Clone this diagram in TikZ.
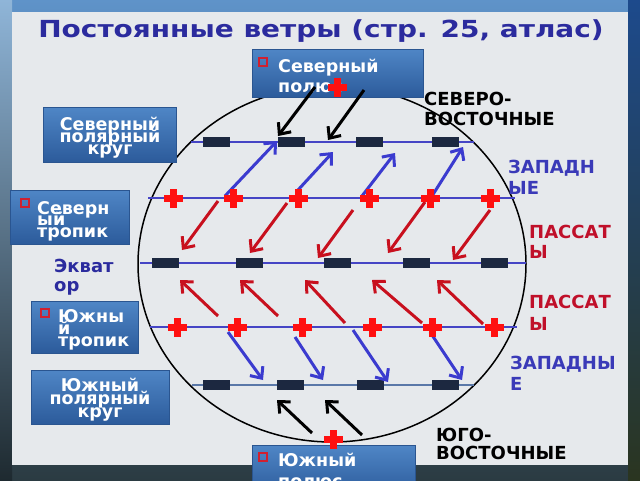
\documentclass[tikz,border=0pt]{standalone}
\usepackage{fontspec}
\setmainfont{DejaVu Sans}
\usetikzlibrary{arrows.meta,shapes.geometric}
\definecolor{titleblue}{HTML}{2B2B9E}
\definecolor{panelc}{HTML}{E6E9EC}
\definecolor{boxtop}{HTML}{4F86C6}
\definecolor{boxbot}{HTML}{2C5B9B}
\definecolor{boxedge}{HTML}{2A5590}
\definecolor{latblue}{HTML}{4545C5}
\definecolor{latsteel}{HTML}{5A78A8}
\definecolor{barnavy}{HTML}{1C2840}
\definecolor{windblue}{HTML}{3B3BCF}
\definecolor{windred}{HTML}{C8101E}
\definecolor{crossred}{HTML}{FF1010}
\definecolor{bulred}{HTML}{D02030}
\definecolor{lblblue}{HTML}{3A3AB8}
\definecolor{lblred}{HTML}{C0102A}
\definecolor{bgtop}{HTML}{5F93C9}
\definecolor{bgbot}{HTML}{2B3B42}
\definecolor{bgltop}{HTML}{8FB5D8}
\definecolor{bglbot}{HTML}{1E2A30}
\definecolor{bgrtop}{HTML}{1D4A8C}
\definecolor{bgrbot}{HTML}{2A3520}
\begin{document}
\begin{tikzpicture}[x=1pt,y=-1pt,
  box/.style={draw=boxedge, line width=0.6pt, top color=boxtop, bottom color=boxbot, inner sep=0pt},
  btxt/.style={text=white, font=\fontsize{17.5}{13}\selectfont\bfseries, inner sep=0pt, anchor=base west},
  ctxt/.style={text=white, font=\fontsize{17.5}{13}\selectfont\bfseries, inner sep=0pt, anchor=base},
  lbl/.style={font=\fontsize{18}{20}\selectfont\bfseries, inner sep=0pt, anchor=base west},
  latline/.style={draw=latblue, line width=2.6pt},
  bar/.style={fill=barnavy, minimum width=27pt, minimum height=10pt, inner sep=0pt},
  wind/.style={-{Straight Barb[length=9pt,width=16pt]}, line width=3pt},
  bullet/.style={draw=bulred, line width=1.5pt, minimum size=8pt, inner sep=0pt},
  rcross/.pic={\fill[crossred] (-9.5,-3.5) rectangle (9.5,3.5);
               \fill[crossred] (-3.5,-9.5) rectangle (3.5,9.5);}
]
\useasboundingbox (0,0) rectangle (640,480);
\clip (0,0) rectangle (640,480);
% background
\shade[top color=bgtop, bottom color=bgbot] (0,0) rectangle (640,480);
\shade[top color=bgltop, bottom color=bglbot] (0,0) rectangle (12,480);
\shade[top color=bgrtop, bottom color=bgrbot] (628,0) rectangle (640,480);
\fill[panelc] (12,12) rectangle (628,465);
% title
\node[font=\fontsize{23.5}{26}\selectfont\bfseries, text=titleblue, inner sep=0pt, anchor=base] (title) at (321,37)
  {\scalebox{1.19}[1]{Постоянные ветры (стр. 25, атлас)}};
% globe
\node[draw=black, line width=1.5pt, ellipse, minimum width=388pt, minimum height=356pt, inner sep=0pt] (globe) at (332,264) {};
% latitude lines
\coordinate (npl-w) at (191,142); \coordinate (npl-e) at (474,142);
\coordinate (ntr-w) at (148,198); \coordinate (ntr-e) at (515,198);
\coordinate (eq-w)  at (140,263); \coordinate (eq-e)  at (526,263);
\coordinate (str-w) at (150,327); \coordinate (str-e) at (517,327);
\coordinate (spl-w) at (192,385); \coordinate (spl-e) at (474,385);
\draw[latline] (npl-w) -- (npl-e);
\draw[latline] (ntr-w) -- (ntr-e);
\draw[latline] (eq-w) -- (eq-e);
\draw[latline] (str-w) -- (str-e);
\draw[latline, draw=latsteel] (spl-w) -- (spl-e);
% high-pressure bars
\foreach \i/\x in {1/216,2/291,3/369,4/445} {\node[bar] (nb\i) at (\x,142) {};}
\foreach \i/\x in {1/165,2/249,3/337,4/416,5/494} {\node[bar] (eb\i) at (\x,263) {};}
\foreach \i/\x in {1/216,2/290,3/370,4/445} {\node[bar] (sb\i) at (\x,385) {};}
% winds
\foreach \n/\sx/\sy/\ex/\ey in {1/225/196/277/141, 2/298/190/333/152, 3/362/196/395/153, 4/432/196/463/147}
  {\coordinate (wn\n s) at (\sx,\sy); \coordinate (wn\n e) at (\ex,\ey); \draw[wind, windblue] (wn\n s) -- (wn\n e);}
\foreach \n/\sx/\sy/\ex/\ey in {1/218/201/182/250, 2/287/203/250/253, 3/353/210/318/258, 4/425/202/388/253, 5/490/210/453/260}
  {\coordinate (tn\n s) at (\sx,\sy); \coordinate (tn\n e) at (\ex,\ey); \draw[wind, windred] (tn\n s) -- (tn\n e);}
\foreach \n/\sx/\sy/\ex/\ey in {1/218/316/180/280, 2/278/316/240/280, 3/345/323/305/280, 4/422/323/372/280, 5/483/324/437/280}
  {\coordinate (ts\n s) at (\sx,\sy); \coordinate (ts\n e) at (\ex,\ey); \draw[wind, windred] (ts\n s) -- (ts\n e);}
\foreach \n/\sx/\sy/\ex/\ey in {1/228/332/263/380, 2/295/337/323/380, 3/353/330/388/382, 4/430/332/462/380}
  {\coordinate (ws\n s) at (\sx,\sy); \coordinate (ws\n e) at (\ex,\ey); \draw[wind, windblue] (ws\n s) -- (ws\n e);}
% crosses on tropics
\foreach \i/\x in {1/173,2/233,3/298,4/369,5/430,6/490} {\pic (nc\i) at (\x,198) {rcross};}
\foreach \i/\x in {1/177,2/237,3/302,4/372,5/432,6/494} {\pic (sc\i) at (\x,327) {rcross};}
% boxes
\node[box, minimum width=133pt, minimum height=55pt] (npcbox) at (109.5,134.5) {};
\node[ctxt] (npc1) at (110,130) {Северный};
\node[ctxt] (npc2) at (110,142) {полярный};
\node[ctxt] (npc3) at (110,154) {круг};
\node[box, minimum width=119pt, minimum height=54pt] (ntrbox) at (69.5,217) {};
\node[bullet] (ntrb) at (25,203) {};
\node[btxt] (ntr1) at (37,214) {Северн};
\node[btxt] (ntr2) at (37,225.5) {ый};
\node[btxt] (ntr3) at (37,237) {тропик};
\node[box, minimum width=107pt, minimum height=52pt] (strbox) at (84.5,327) {};
\node[bullet] (strb) at (45,313) {};
\node[btxt] (str1) at (58,322) {Южны};
\node[btxt] (str2) at (58,334) {й};
\node[btxt] (str3) at (58,346.5) {тропик};
\node[box, minimum width=138pt, minimum height=54pt] (spcbox) at (100,397) {};
\node[ctxt] (spc1) at (100,391) {Южный};
\node[ctxt] (spc2) at (100,404) {полярный};
\node[ctxt] (spc3) at (100,417) {круг};
\node[box, minimum width=171pt, minimum height=48pt] (npbox) at (337.5,73) {};
\node[bullet] (npb) at (263,62) {};
\node[btxt] (np1) at (278,72) {Северный};
\node[btxt] (np2) at (278,92) {полюс};
\node[box, minimum width=163pt, minimum height=50pt] (spbox) at (333.5,470) {};
\node[bullet] (spb) at (263,457) {};
\node[btxt] (sp1) at (278,466) {Южный};
\node[btxt] (sp2) at (278,487) {полюс};
% polar winds and pole crosses
\foreach \n/\sx/\sy/\ex/\ey in {1/315/87/278/136, 2/364/90/328/140}
  {\coordinate (kn\n s) at (\sx,\sy); \coordinate (kn\n e) at (\ex,\ey); \draw[wind, black] (kn\n s) -- (kn\n e);}
\foreach \n/\sx/\sy/\ex/\ey in {1/312/433/277/400, 2/362/435/325/400}
  {\coordinate (ks\n s) at (\sx,\sy); \coordinate (ks\n e) at (\ex,\ey); \draw[wind, black] (ks\n s) -- (ks\n e);}
\pic (npc) at (337,87) {rcross};
\pic (spc) at (333,439) {rcross};
% labels
\node[lbl, text=titleblue] (eq1) at (54,272) {Экват};
\node[lbl, text=titleblue] (eq2) at (54,291) {ор};
\node[lbl, text=black] (ne1) at (424,105) {СЕВЕРО-};
\node[lbl, text=black] (ne2) at (424,125) {ВОСТОЧНЫЕ};
\node[lbl, text=lblblue] (wn1) at (508,173) {ЗАПАДН};
\node[lbl, text=lblblue] (wn2) at (508,194) {ЫЕ};
\node[lbl, text=lblred] (pn1) at (529,238) {ПАССАТ};
\node[lbl, text=lblred] (pn2) at (529,258) {Ы};
\node[lbl, text=lblred] (ps1) at (529,308) {ПАССАТ};
\node[lbl, text=lblred] (ps2) at (529,330) {Ы};
\node[lbl, text=lblblue] (ws1) at (510,369) {ЗАПАДНЫ};
\node[lbl, text=lblblue] (ws2) at (510,390) {Е};
\node[lbl, text=black] (se1) at (436,441) {ЮГО-};
\node[lbl, text=black] (se2) at (436,459) {ВОСТОЧНЫЕ};
\end{tikzpicture}
\end{document}
